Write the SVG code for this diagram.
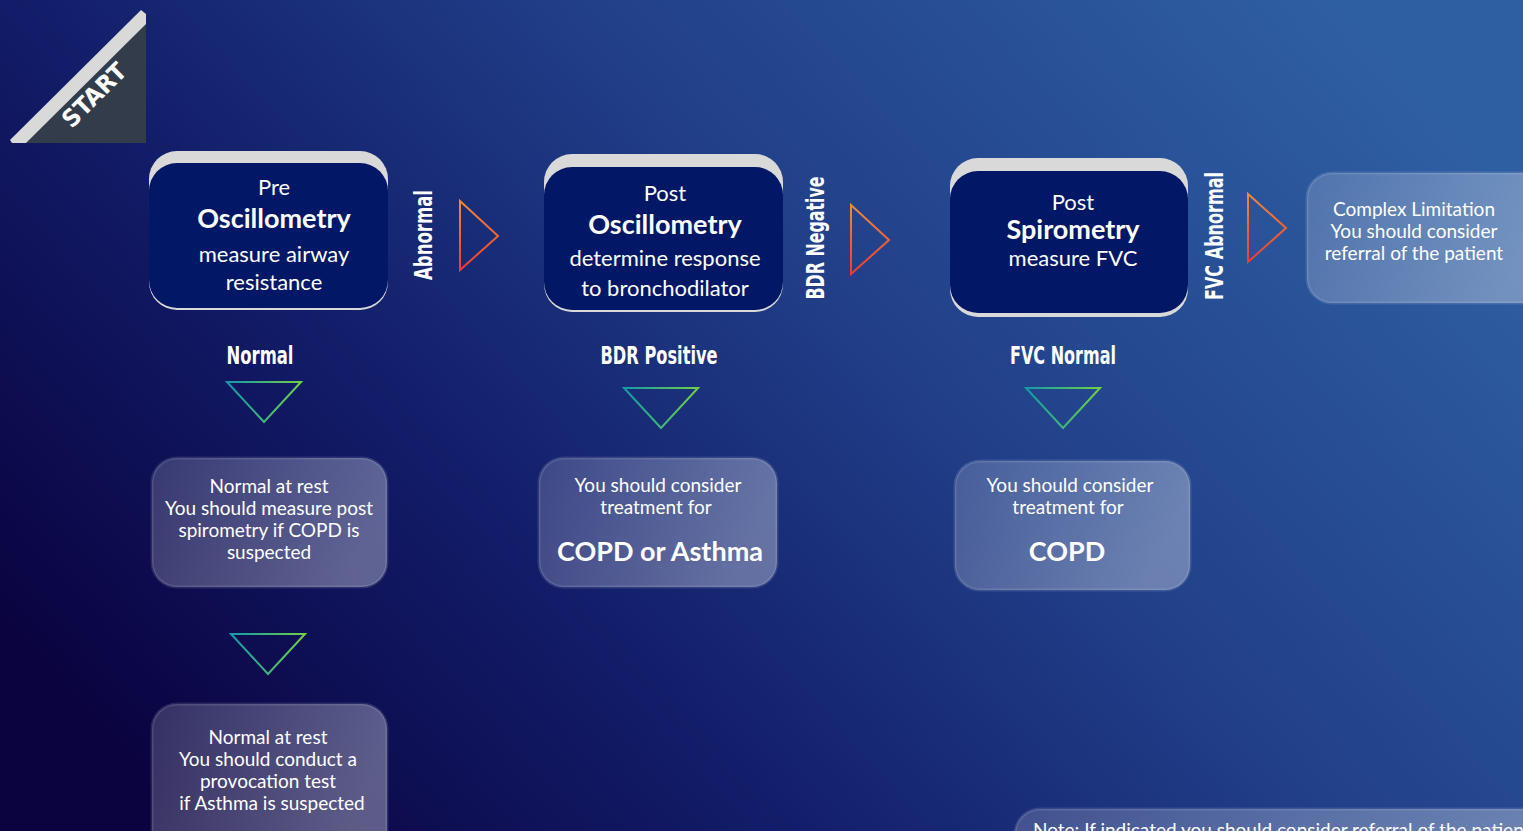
<svg xmlns="http://www.w3.org/2000/svg" width="1523" height="831" viewBox="0 0 1523 831">
<defs>
<linearGradient id="bg" x1="0" y1="0.75" x2="1" y2="0.25">
<stop offset="0" stop-color="#0a0340"/>
<stop offset="0.3" stop-color="#121c68"/>
<stop offset="0.6" stop-color="#213f88"/>
<stop offset="1" stop-color="#2f5fa3"/>
</linearGradient>
<linearGradient id="org" x1="0" y1="0" x2="0" y2="1">
<stop offset="0" stop-color="#f08a3a"/>
<stop offset="1" stop-color="#f03a30"/>
</linearGradient>
<linearGradient id="grn" x1="0" y1="0" x2="1" y2="0">
<stop offset="0" stop-color="#139aa8"/>
<stop offset="1" stop-color="#70d048"/>
</linearGradient>
<linearGradient id="box" x1="0" y1="0" x2="1" y2="0.3">
<stop offset="0" stop-color="#ffffff" stop-opacity="0.17"/>
<stop offset="1" stop-color="#ffffff" stop-opacity="0.33"/>
</linearGradient>
</defs>
<style>
.cap{fill:#d9d9d9}
.nav{fill:#021866}
.t{font-family:Lato,"Open Sans","Liberation Sans",sans-serif;fill:#ffffff;text-anchor:middle}
.s21{font-size:22px}
.b26{font-size:27px;font-weight:bold}
.s18{font-size:19px}
.lab{font-family:"DejaVu Sans Condensed","Liberation Sans",sans-serif;font-weight:bold;fill:#ffffff;text-anchor:middle;font-size:24px}
.res{fill:url(#box);stroke:#ffffff;stroke-opacity:0.12;stroke-width:3}
.ot{fill:none;stroke:url(#org);stroke-width:2}
.gt{fill:none;stroke:url(#grn);stroke-width:2}
</style>
<rect width="1523" height="831" fill="url(#bg)"/>

<g id="start">
<polygon points="10,140 141,10 146,14 146,143 12,143" fill="#d9d9d9"/>
<polygon points="26,143 146,24 146,143" fill="#333c4a"/>
<text class="lab" transform="translate(100,101) rotate(-45)" font-size="34" textLength="80" lengthAdjust="spacingAndGlyphs">START</text>
</g>

<g id="node-pre-osc">
<rect class="cap" x="149" y="151" width="239" height="159" rx="28"/>
<rect class="nav" x="149" y="163" width="239" height="145" rx="28"/>
<text class="t s21" x="274" y="195">Pre</text>
<text class="t b26" x="274" y="228">Oscillometry</text>
<text class="t s21" x="274" y="262">measure airway</text>
<text class="t s21" x="274" y="290">resistance</text>
</g>

<g id="node-post-osc">
<rect class="cap" x="544" y="154" width="239" height="158" rx="28"/>
<rect class="nav" x="544" y="167" width="239" height="143" rx="28"/>
<text class="t s21" x="665" y="201">Post</text>
<text class="t b26" x="665" y="234">Oscillometry</text>
<text class="t s21" x="665" y="266">determine response</text>
<text class="t s21" x="665" y="296">to bronchodilator</text>
</g>

<g id="node-post-spiro">
<rect class="cap" x="950" y="158" width="238" height="159" rx="28"/>
<rect class="nav" x="950" y="171" width="238" height="142" rx="28"/>
<text class="t s21" x="1073" y="210">Post</text>
<text class="t b26" x="1073" y="239">Spirometry</text>
<text class="t s21" x="1073" y="266">measure FVC</text>
</g>

<g id="node-complex">
<rect class="res" x="1307" y="173" width="240" height="130" rx="25"/>
<text class="t s18" x="1414" y="216">Complex Limitation</text>
<text class="t s18" x="1414" y="238">You should consider</text>
<text class="t s18" x="1414" y="260">referral of the patient</text>
</g>

<g id="node-normal-rest-1">
<rect class="res" x="152" y="458" width="235" height="129" rx="25"/>
<text class="t s18" x="269" y="493">Normal at rest</text>
<text class="t s18" x="269" y="515">You should measure post</text>
<text class="t s18" x="269" y="537">spirometry if COPD is</text>
<text class="t s18" x="269" y="559">suspected</text>
</g>

<g id="node-copd-asthma">
<rect class="res" x="539" y="458" width="238" height="129" rx="25"/>
<text class="t s18" x="658" y="492">You should consider</text>
<text class="t s18" x="656" y="514">treatment for</text>
<text class="t b26" x="660" y="561">COPD or Asthma</text>
</g>

<g id="node-copd">
<rect class="res" x="955" y="461" width="235" height="129" rx="25"/>
<text class="t s18" x="1070" y="492">You should consider</text>
<text class="t s18" x="1068" y="514">treatment for</text>
<text class="t b26" x="1067" y="561">COPD</text>
</g>

<g id="node-normal-rest-2">
<rect class="res" x="152" y="704" width="235" height="150" rx="25"/>
<text class="t s18" x="268" y="744">Normal at rest</text>
<text class="t s18" x="268" y="766">You should conduct a</text>
<text class="t s18" x="268" y="788">provocation test</text>
<text class="t s18" x="272" y="810">if Asthma is suspected</text>
</g>

<g id="node-note">
<rect class="res" x="1015" y="809" width="540" height="60" rx="25"/>
<text class="t s18" x="1033" y="837" style="text-anchor:start">Note: If indicated you should consider referral of the patient</text>
</g>

<g id="connectors">
<text class="lab" transform="translate(432,235) rotate(-90)" textLength="90" lengthAdjust="spacingAndGlyphs">Abnormal</text>
<polygon class="ot" points="460,201 460,270 498,236"/>
<text class="lab" transform="translate(824,238) rotate(-90)" textLength="123" lengthAdjust="spacingAndGlyphs">BDR Negative</text>
<polygon class="ot" points="851,205 851,274 889,240"/>
<text class="lab" transform="translate(1223,236) rotate(-90)" textLength="128" lengthAdjust="spacingAndGlyphs">FVC Abnormal</text>
<polygon class="ot" points="1248,194 1248,262 1286,228"/>

<text class="lab" x="260" y="364" textLength="67" lengthAdjust="spacingAndGlyphs">Normal</text>
<polygon class="gt" points="227,382 301,382 264,422"/>
<text class="lab" x="659" y="364" textLength="117" lengthAdjust="spacingAndGlyphs">BDR Positive</text>
<polygon class="gt" points="624,388 698,388 661,428"/>
<text class="lab" x="1063" y="364" textLength="106" lengthAdjust="spacingAndGlyphs">FVC Normal</text>
<polygon class="gt" points="1026,388 1100,388 1063,428"/>
<polygon class="gt" points="231,634 305,634 268,674"/>
</g>
</svg>
